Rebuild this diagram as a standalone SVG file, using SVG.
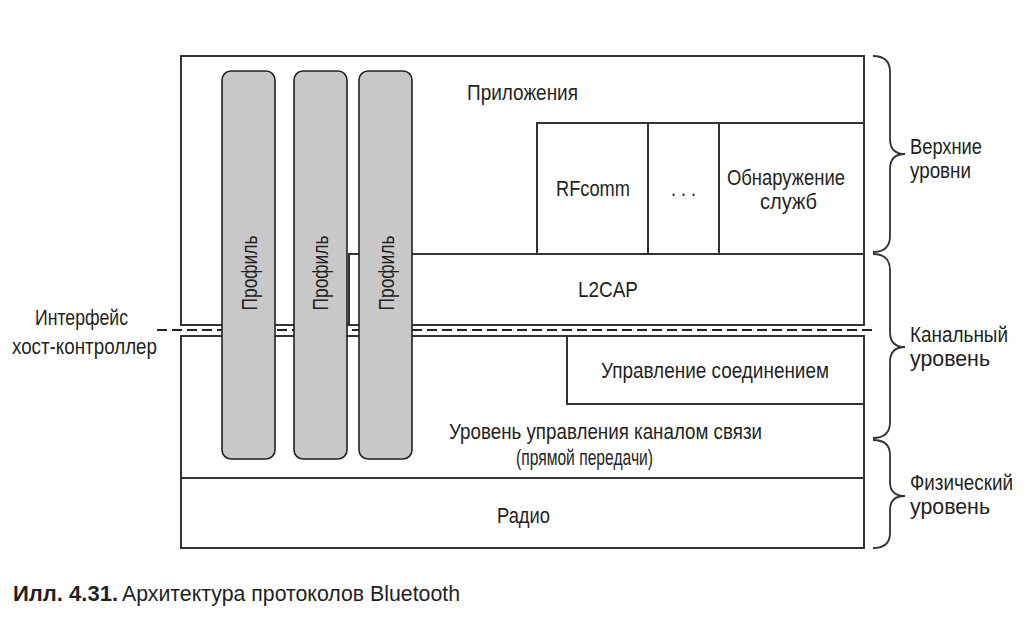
<svg xmlns="http://www.w3.org/2000/svg" width="1027" height="620" viewBox="0 0 1027 620">
<style>
.box{fill:#fff;stroke:#333;stroke-width:2}
.bar{fill:#c8c8c8;stroke:#222;stroke-width:1.6}
.t{font-family:"Liberation Sans Narrow","Liberation Sans",Arial,sans-serif;font-size:22px;fill:#231f20}
.dash{stroke:#222;stroke-width:2;stroke-dasharray:10 5;fill:none}
.brace{fill:none;stroke:#333;stroke-width:1.8}
</style>
<rect width="1027" height="620" fill="#fff"/>
<g id="upper">
<rect class="box" x="181" y="56" width="683" height="269"/>
<text class="t" x="467" y="100" textLength="111" lengthAdjust="spacingAndGlyphs">Приложения</text>
</g>
<g id="rfcomm">
<rect class="box" x="537" y="123" width="111" height="131"/>
<text class="t" x="556" y="196" textLength="74" lengthAdjust="spacingAndGlyphs">RFcomm</text>
</g>
<g id="dots">
<rect class="box" x="648" y="123" width="71" height="131"/>
<text class="t" x="671" y="196" textLength="25" lengthAdjust="spacingAndGlyphs">. . .</text>
</g>
<g id="sdp">
<rect class="box" x="719" y="123" width="145" height="131"/>
<text class="t" x="727" y="185" textLength="118" lengthAdjust="spacingAndGlyphs">Обнаружение</text>
<text class="t" x="760" y="209" textLength="57" lengthAdjust="spacingAndGlyphs">служб</text>
</g>
<g id="l2cap">
<rect class="box" x="349" y="254" width="515" height="71"/>
<text class="t" x="578" y="297" textLength="60" lengthAdjust="spacingAndGlyphs">L2CAP</text>
</g>
<g id="lower">
<rect class="box" x="181" y="336" width="683" height="142"/>
<text class="t" x="449" y="439" textLength="313" lengthAdjust="spacingAndGlyphs">Уровень управления каналом связи</text>
<text class="t" x="516" y="465" textLength="137" lengthAdjust="spacingAndGlyphs">(прямой передачи)</text>
</g>
<g id="lmp">
<rect class="box" x="567" y="336" width="297" height="68"/>
<text class="t" x="601" y="378" textLength="228" lengthAdjust="spacingAndGlyphs">Управление соединением</text>
</g>
<g id="radio">
<rect class="box" x="181" y="478" width="683" height="70"/>
<text class="t" x="497" y="523" textLength="53" lengthAdjust="spacingAndGlyphs">Радио</text>
</g>
<g id="connectors">
<line class="dash" x1="157" y1="330" x2="876" y2="330"/>
<path class="brace" d="M873,56 Q890,56 890,72 L890,139 Q890,154 905,154 Q890,154 890,169 L890,236 Q890,252 873,252"/>
<path class="brace" d="M873,254 Q890,254 890,270 L890,332 Q890,347 905,347 Q890,347 890,362 L890,422 Q890,438 873,438"/>
<path class="brace" d="M873,440 Q890,440 890,455 L890,482 Q890,496 905,496 Q890,496 890,510 L890,533 Q890,548 873,548"/>
</g>
<g id="profile1">
<rect class="bar" x="222" y="71" width="53" height="388" rx="9"/>
<text class="t" transform="translate(257,273) rotate(-90)" text-anchor="middle" textLength="75" lengthAdjust="spacingAndGlyphs">Профиль</text>
</g>
<g id="profile2">
<rect class="bar" x="294" y="71" width="53" height="388" rx="9"/>
<text class="t" transform="translate(328,273) rotate(-90)" text-anchor="middle" textLength="75" lengthAdjust="spacingAndGlyphs">Профиль</text>
</g>
<g id="profile3">
<rect class="bar" x="359" y="71" width="53" height="388" rx="9"/>
<text class="t" transform="translate(394,273) rotate(-90)" text-anchor="middle" textLength="75" lengthAdjust="spacingAndGlyphs">Профиль</text>
</g>
<g id="labels">
<text class="t" x="35" y="325" textLength="93" lengthAdjust="spacingAndGlyphs">Интерфейс</text>
<text class="t" x="12" y="354" textLength="145" lengthAdjust="spacingAndGlyphs">хост-контроллер</text>
<text class="t" x="910" y="154" textLength="72" lengthAdjust="spacingAndGlyphs">Верхние</text>
<text class="t" x="910" y="178" textLength="61" lengthAdjust="spacingAndGlyphs">уровни</text>
<text class="t" x="910" y="342" textLength="98" lengthAdjust="spacingAndGlyphs">Канальный</text>
<text class="t" x="910" y="366" textLength="80" lengthAdjust="spacingAndGlyphs">уровень</text>
<text class="t" x="910" y="490" font-size="20" textLength="103" lengthAdjust="spacingAndGlyphs">Физический</text>
<text class="t" x="910" y="514" textLength="80" lengthAdjust="spacingAndGlyphs">уровень</text>
</g>
<g id="caption">
<text class="t" x="13" y="601" font-weight="bold" textLength="105" lengthAdjust="spacingAndGlyphs">Илл. 4.31.</text>
<text class="t" x="122" y="601" textLength="338" lengthAdjust="spacingAndGlyphs">Архитектура протоколов Bluetooth</text>
</g>
</svg>
